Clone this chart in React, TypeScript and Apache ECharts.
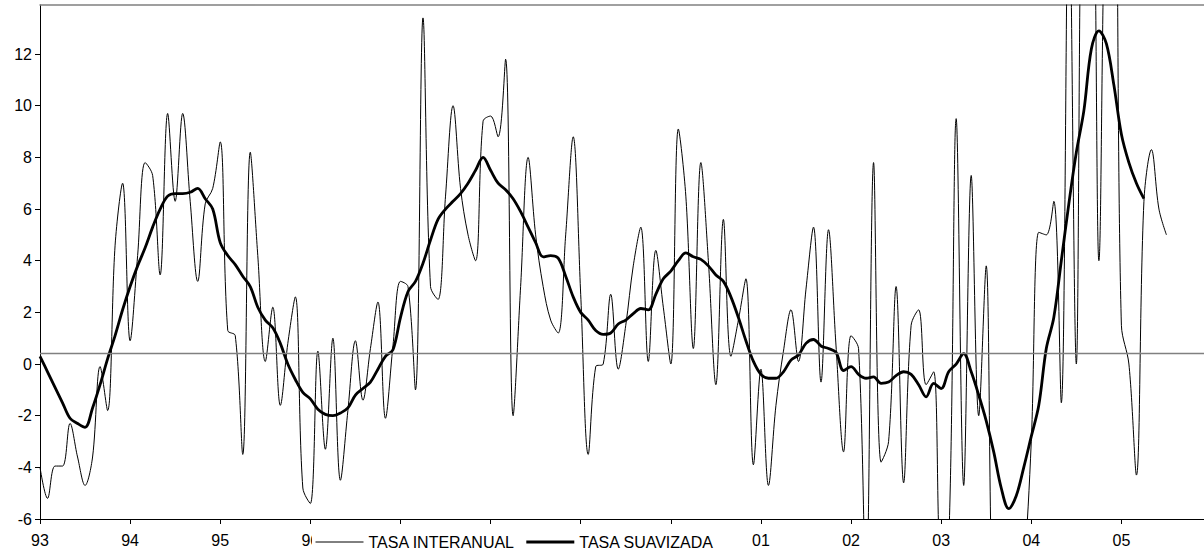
import React, { useEffect, useRef } from "react";
import * as echarts from "echarts";

// Year labels of the x axis (January of each year)
const yearLabels = ["93", "94", "95", "96", "97", "98", "99", "00", "01", "02", "03", "04", "05"];
const yTicks = [-6, -4, -2, 0, 2, 4, 6, 8, 10, 12];
const refLevel = 0.4;

// TASA INTERANUAL (monthly, from Jan 1993)
const tasaInteranual = [
  -4.0, -5.2, -3.95, -3.95, -2.3, -3.6, -4.7, -3.6, -0.1, -1.8, 4.6, 7.0,
  0.9, 4.2, 7.8, 7.3, 3.45, 9.7, 6.3, 9.7, 6.3, 3.2, 6.2, 6.8,
  8.6, 1.3, 1.1, -3.5, 8.2, 4.2, 0.1, 2.2, -1.6, 0.8, 2.6, -4.8,
  -5.4, 0.5, -3.3, 1.0, -4.5, -1.8, 0.9, -1.4, 0.6, 2.4, -2.1, 0.7,
  3.2, 3.0, -1.0, 13.4, 3.0, 2.5, 6.5, 10.0, 6.8, 5.0, 4.0, 9.4,
  9.6, 8.8, 11.8, -2.0, 3.0, 8.0, 5.0, 3.0, 1.7, 1.2, 5.0, 8.8,
  2.7, -3.5, -0.1, 0.0, 2.7, -0.2, 1.5, 3.8, 5.3, 0.1, 4.4, 2.2,
  0.0, 9.1, 6.5, 0.6, 7.8, 4.0, -0.8, 5.6, 0.3, 1.7, 3.3, -3.9,
  -0.2, -4.7, -1.6, 0.5, 2.1, 0.1, 2.9, 5.3, -0.7, 5.2, 0.7, -3.4,
  1.1, 0.6, -9.0, 7.8, -3.8, -3.0, 3.0, -4.6, 1.5, 2.1, -0.8, -0.3,
  -7.5, -7.0, 9.5, -4.7, 7.3, -2.0, 3.8, -9.0, -8.0, -9.0, -10.0, -8.0,
  -3.0, 5.1, 5.0, 6.3, -1.5, 19.0, 0.0, 21.0, 21.0, 4.0, 20.0, 21.0,
  1.5, 0.0, -4.3, 6.3, 8.3, 6.0, 5.0,
];

// TASA SUAVIZADA (monthly, from Jan 1993)
const tasaSuavizada = [
  0.3, -0.3, -0.9, -1.5, -2.1, -2.3, -2.45, -1.7, -0.8, 0.2, 1.1, 2.1,
  3.0, 3.8, 4.5, 5.3, 6.0, 6.5, 6.6, 6.6, 6.65, 6.8, 6.4, 6.0,
  4.7, 4.2, 3.85, 3.4, 3.0, 2.2, 1.7, 1.4, 0.8, 0.0, -0.6, -1.1,
  -1.35, -1.75, -1.95, -2.0, -1.9, -1.7, -1.2, -0.95, -0.7, -0.2, 0.3, 0.55,
  1.8, 2.8, 3.2, 3.9, 4.8, 5.6, 6.0, 6.3, 6.6, 7.0, 7.5, 8.0,
  7.5, 7.0, 6.75, 6.4, 5.9, 5.3, 4.7, 4.15, 4.2, 4.1, 3.4, 2.6,
  2.0, 1.7, 1.3, 1.15, 1.2, 1.55, 1.7, 1.95, 2.15, 2.1, 2.7, 3.3,
  3.6, 4.0, 4.3, 4.15, 4.05, 3.8, 3.45, 3.2, 2.6, 1.8, 0.9, 0.1,
  -0.4, -0.55, -0.55, -0.3, 0.15, 0.35, 0.8, 0.95, 0.7, 0.6, 0.45, -0.25,
  -0.1, -0.4, -0.55, -0.5, -0.75, -0.7, -0.45, -0.3, -0.4, -0.8, -1.27, -0.75,
  -0.95, -0.3, 0.0, 0.4, -0.3, -1.2, -2.2, -3.4, -4.8, -5.6, -5.1, -4.0,
  -2.8, -1.6, 0.6, 1.8, 4.0, 6.2, 8.2, 9.8, 12.2, 12.9, 12.4, 10.8,
  8.9, 7.8, 7.0, 6.4,
];

const months = ["01", "02", "03", "04", "05", "06", "07", "08", "09", "10", "11", "12"];
const categories: string[] = [];
yearLabels.forEach((y) => months.forEach((m) => categories.push(y + "-" + m)));

const FONT = "'Liberation Sans', Arial, sans-serif";

export default function App() {
  const ref = useRef<HTMLDivElement>(null);
  useEffect(() => {
    if (!ref.current) return;
    const chart = echarts.init(ref.current, undefined, { renderer: "svg" });
    chart.setOption({
      animation: false,
      backgroundColor: "#ffffff",
      grid: { left: 40, right: 0, top: 5, bottom: 39, containLabel: false },
      legend: {
        data: [
          { name: "TASA INTERANUAL", lineStyle: { width: 1, color: "#000" } },
          { name: "TASA SUAVIZADA", lineStyle: { width: 2.8, color: "#000" } },
        ],
        left: 312,
        top: 532,
        itemWidth: 48,
        itemHeight: 14,
        itemGap: 10,
        padding: [2, 6, 2, 3],
        backgroundColor: "#ffffff",
        selectedMode: false,
        z: 10,
        itemStyle: { color: "rgba(0,0,0,0)", borderColor: "rgba(0,0,0,0)", borderWidth: 0 },
        textStyle: { fontSize: 16, color: "#000", fontFamily: FONT },
      },
      xAxis: [
        {
          type: "category",
          data: categories,
          boundaryGap: false,
          position: "bottom",
          axisLine: { onZero: false, lineStyle: { color: "#000", width: 1 } },
          axisTick: { interval: 11, length: 5, lineStyle: { color: "#000" } },
          axisLabel: {
            interval: 11,
            margin: 13,
            fontSize: 16,
            color: "#000",
            fontFamily: FONT,
            formatter: (v: string) => v.split("-")[0],
          },
          splitLine: { show: false },
        },
        {
          type: "category",
          data: categories,
          boundaryGap: false,
          position: "top",
          axisLine: { onZero: false, lineStyle: { color: "#808080", width: 1.5 } },
          axisTick: { show: false },
          axisLabel: { show: false },
          splitLine: { show: false },
        },
      ],
      yAxis: {
        type: "value",
        min: -6,
        max: 13.9,
        interval: 2,
        axisLine: { show: true, onZero: false, lineStyle: { color: "#000", width: 1 } },
        axisTick: { show: true, length: 5, customValues: yTicks, lineStyle: { color: "#000" } },
        axisLabel: {
          margin: 8,
          fontSize: 16,
          color: "#000",
          fontFamily: FONT,
          customValues: yTicks,
        },
        splitLine: { show: false },
      },
      series: [
        {
          name: "TASA INTERANUAL",
          type: "line",
          data: tasaInteranual,
          symbol: "none",
          smooth: 0.35,
          clip: true,
          lineStyle: { color: "#000", width: 1 },
          itemStyle: { color: "#000" },
          z: 3,
          markLine: {
            silent: true,
            symbol: "none",
            label: { show: false },
            lineStyle: { color: "#808080", width: 1.4, type: "solid" },
            data: [{ yAxis: refLevel }],
          },
        },
        {
          name: "TASA SUAVIZADA",
          type: "line",
          data: tasaSuavizada,
          symbol: "none",
          smooth: 0.35,
          clip: true,
          lineStyle: { color: "#000", width: 2.8 },
          itemStyle: { color: "#000" },
          z: 4,
        },
      ],
    });
    return () => chart.dispose();
  }, []);
  return (
    <div
      ref={ref}
      style={{ position: "fixed", left: 0, top: 0, width: 1204, height: 558, background: "#fff" }}
    />
  );
}
